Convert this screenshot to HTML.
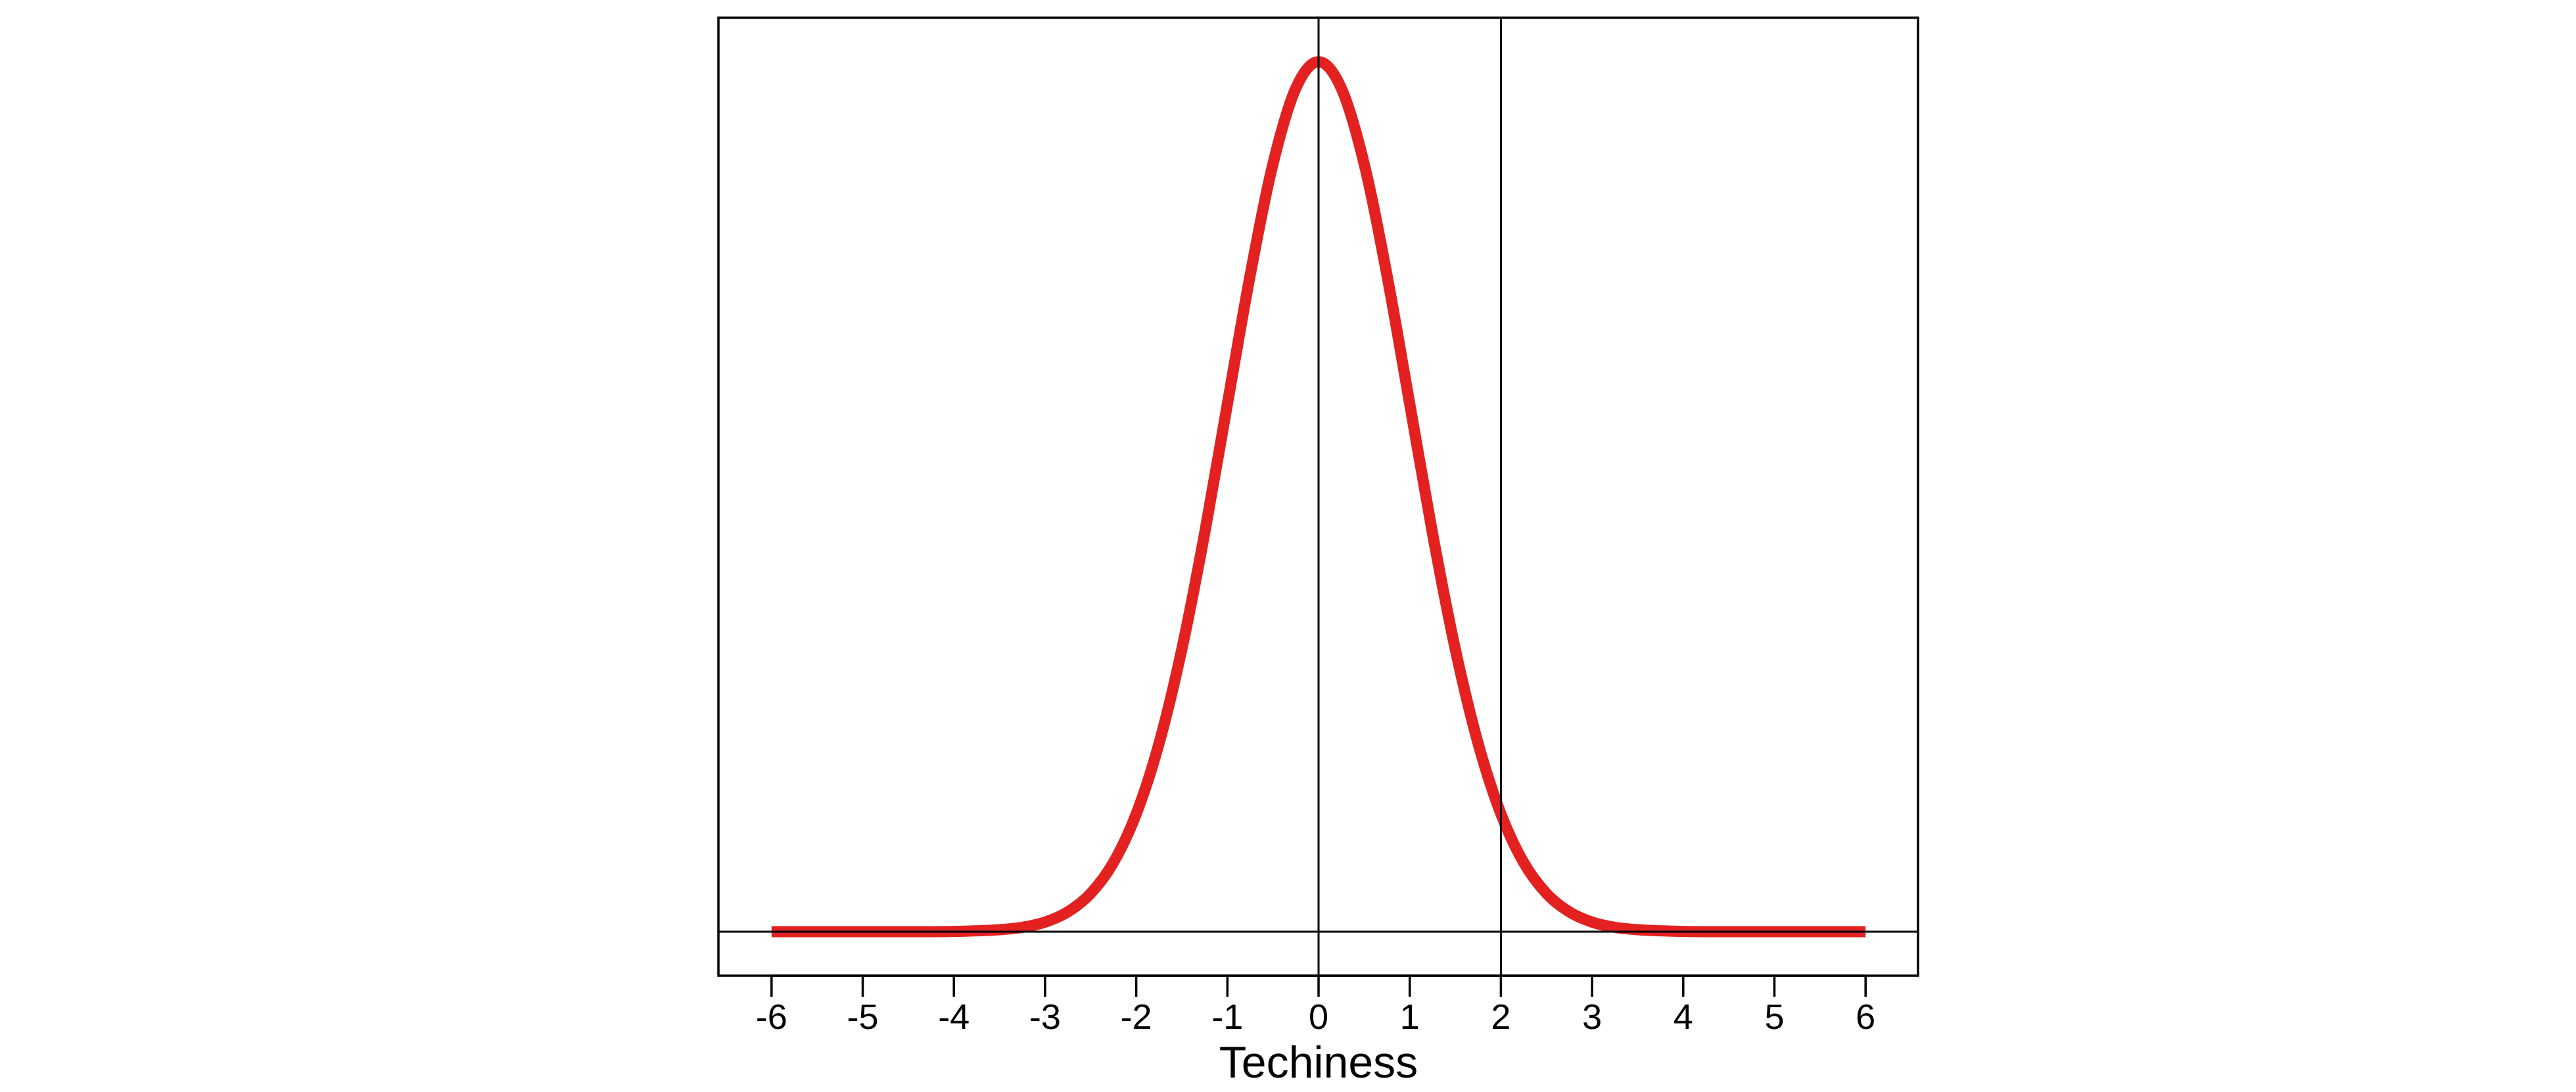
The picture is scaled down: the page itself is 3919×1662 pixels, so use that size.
<!DOCTYPE html>
<html><head><meta charset="utf-8"><style>
html,body{margin:0;padding:0;background:#fff;}
svg{display:block;}
text{font-family:"Liberation Sans",Arial,sans-serif;fill:#000;}
</style></head><body>
<svg id="chart" width="3919" height="1662" viewBox="0 0 3919 1662" xmlns="http://www.w3.org/2000/svg">
<rect x="1093" y="27" width="1825" height="1458" fill="none" stroke="#000" stroke-width="3.5"/>
<g id="ticks"></g>
<g id="refs"></g>
<path id="curve" fill="none" stroke="#e32121" stroke-width="17" stroke-linecap="butt" stroke-linejoin="round"/>
<text x="2006" y="1640" font-size="68" text-anchor="middle">Techiness</text>
</svg>
<script>
const xTicks = [-6,-5,-4,-3,-2,-1,0,1,2,3,4,5,6];
const xValues = [-6,-5.75,-5.5,-5.25,-5,-4.75,-4.5,-4.25,-4,-3.75,-3.5,-3.25,-3,-2.75,-2.5,-2.25,-2,-1.75,-1.5,-1.25,-1,-0.75,-0.5,-0.25,0,0.25,0.5,0.75,1,1.25,1.5,1.75,2,2.25,2.5,2.75,3,3.25,3.5,3.75,4,4.25,4.5,4.75,5,5.25,5.5,5.75,6];
const densityValues = [0,0,0,0,0,0,0,0,0.0001,0.0004,0.0009,0.002,0.0044,0.0091,0.0175,0.0317,0.054,0.0863,0.1295,0.1826,0.242,0.3011,0.3521,0.3867,0.3989,0.3867,0.3521,0.3011,0.242,0.1826,0.1295,0.0863,0.054,0.0317,0.0175,0.0091,0.0044,0.002,0.0009,0.0004,0.0001,0,0,0,0,0,0,0,0];
const verticalRefs = [0,2];
const horizontalRefs = [0];

const NS='http://www.w3.org/2000/svg';
const X0=2006, UX=138.7, Y0=1418, UY=(1418-94)/0.3989;
const L=1093,R=2918,T=27,B=1485;
function sx(v){return X0+v*UX;}
function sy(v){return Y0-v*UY;}
function mk(tag,attrs,parent){const e=document.createElementNS(NS,tag);for(const k in attrs)e.setAttribute(k,attrs[k]);parent.appendChild(e);return e;}
const tg=document.getElementById('ticks');
mk('line',{x1:sx(xTicks[0]),x2:sx(xTicks[xTicks.length-1]),y1:B,y2:B,stroke:'#000','stroke-width':3.5},tg);
xTicks.forEach(t=>{
  const ln=mk('line',{x1:sx(t),x2:sx(t),y1:B,y2:1517,stroke:'#000','stroke-width':3.5},tg);
  
  
  const tx=mk('text',{x:sx(t),y:1566,'font-size':54,'text-anchor':'middle'},tg);
  tx.textContent=String(t);
  
  
});
const rg=document.getElementById('refs');
verticalRefs.forEach(v=>{
  const ln=mk('line',{x1:sx(v),x2:sx(v),y1:T,y2:B,stroke:'#000','stroke-width':3},rg);
  
  
});
horizontalRefs.forEach(v=>{
  const ln=mk('line',{x1:L,x2:R,y1:sy(v),y2:sy(v),stroke:'#000','stroke-width':3},rg);
  
  
});
const pts=xValues.map((x,i)=>[sx(x),sy(densityValues[i])]);
let d='M'+pts[0][0]+','+pts[0][1];
for(let i=0;i<pts.length-1;i++){
  const p0=pts[Math.max(0,i-1)],p1=pts[i],p2=pts[i+1],p3=pts[Math.min(pts.length-1,i+2)];
  const c1=[p1[0]+(p2[0]-p0[0])/6,p1[1]+(p2[1]-p0[1])/6];
  const c2=[p2[0]-(p3[0]-p1[0])/6,p2[1]-(p3[1]-p1[1])/6];
  d+=' C'+c1[0]+','+c1[1]+' '+c2[0]+','+c2[1]+' '+p2[0]+','+p2[1];
}
document.getElementById('curve').setAttribute('d',d);
const svg=document.getElementById('chart');
svg.insertBefore(document.getElementById('curve'),rg);
</script>
</body></html>
